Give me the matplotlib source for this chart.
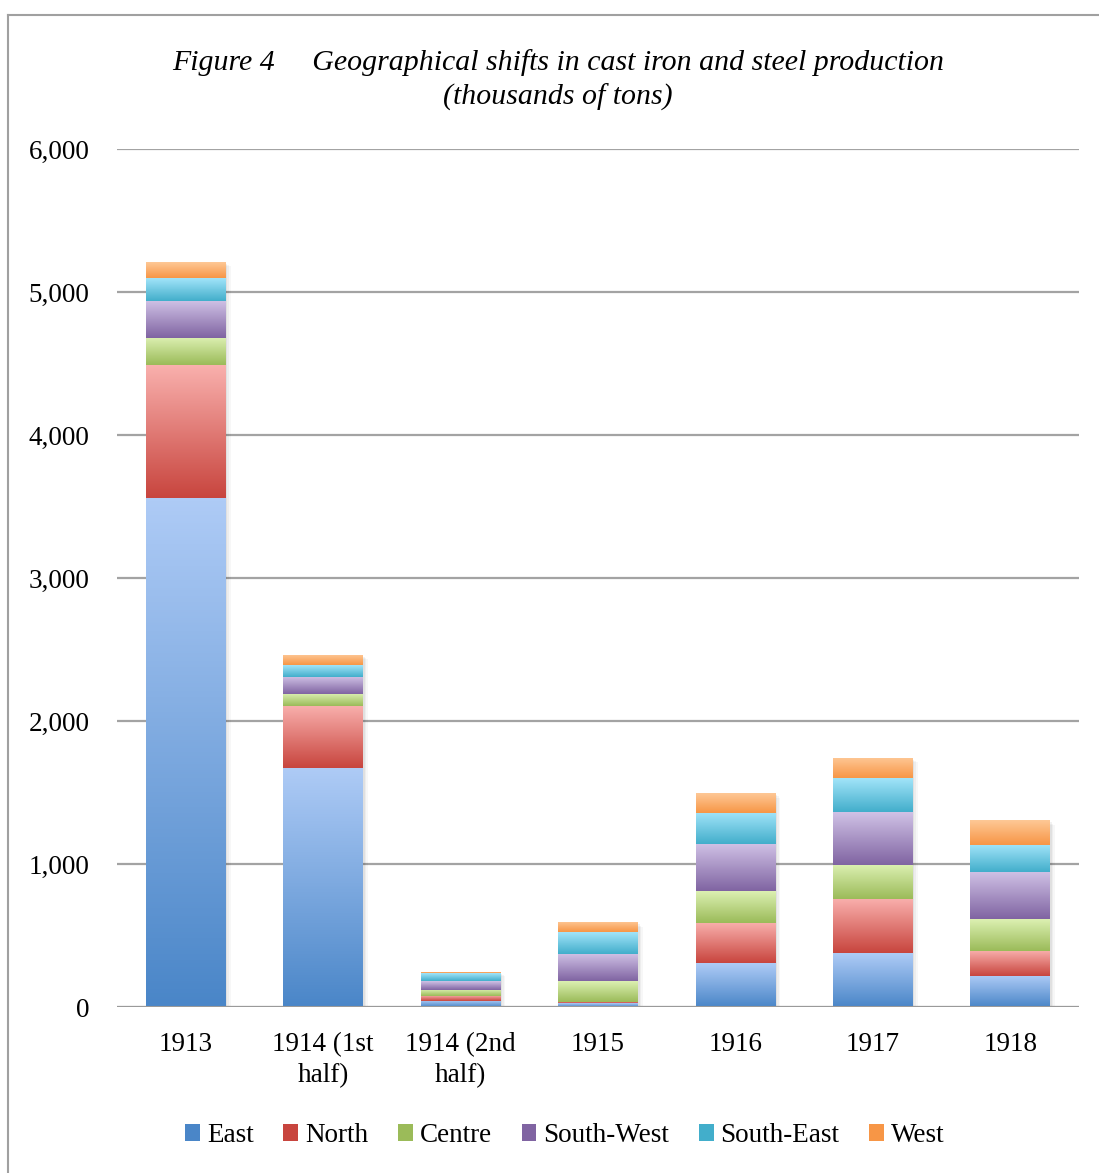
import numpy as np
import matplotlib
matplotlib.use("Agg")
import matplotlib.pyplot as plt
from matplotlib.colors import LinearSegmentedColormap
from matplotlib.lines import Line2D
from matplotlib.patches import Patch

plt.rcParams['font.family'] = ['Liberation Serif', 'DejaVu Serif']

# data (thousands of tons)
years = ['1913', '1914 (1st\nhalf)', '1914 (2nd\nhalf)', '1915', '1916', '1917', '1918']
regions = ['East', 'North', 'Centre', 'South-West', 'South-East', 'West']
east = [3560, 1670, 45, 25, 305, 375, 220]
north = [930, 435, 35, 12, 285, 380, 175]
centre = [190, 85, 42, 145, 220, 240, 220]
south_west = [260, 120, 60, 190, 330, 370, 330]
south_east = [160, 80, 55, 150, 220, 235, 190]
west = [110, 75, 10, 70, 135, 140, 170]
series = [east, north, centre, south_west, south_east, west]

# top (light) / bottom (dark) colour of each gradient
grads = [('#aecbf6', '#4a86c8'),
         ('#f9b0ad', '#c8453e'),
         ('#dcf0b2', '#9bbb59'),
         ('#d0c2e6', '#8064a2'),
         ('#a2e4f9', '#42aecb'),
         ('#fec896', '#f79646')]

fig = plt.figure(figsize=(10.99, 11.73), dpi=100)
ax = fig.add_axes([0.1065, 0.1415, 0.8753, 0.7315])

x = np.arange(len(years))
w = 0.58
grad = np.linspace(0, 1, 128).reshape(-1, 1)

bottom = np.zeros(len(years))
totals = np.sum(series, axis=0)
# soft shadow behind each bar
for i in range(len(years)):
    for k, a in enumerate([0.05, 0.04, 0.03]):
        off = 0.008 + k * 0.008
        ax.bar(x[i] + off, totals[i] + 6, w + off, bottom=-20 - k * 8,
               color='black', alpha=a, zorder=1, linewidth=0)

for vals, (c1, c2) in zip(series, grads):
    cmap = LinearSegmentedColormap.from_list('g', [c1, c2])
    bars = ax.bar(x, vals, w, bottom=bottom, color=c2, zorder=2, linewidth=0)
    for b in bars:
        im = ax.imshow(grad, cmap=cmap, aspect='auto', origin='upper',
                       extent=(b.get_x(), b.get_x() + b.get_width(),
                               b.get_y(), b.get_y() + b.get_height()),
                       zorder=3, interpolation='bilinear')
        im.set_clip_path(b)
    bottom = bottom + np.array(vals)

ax.set_xlim(-0.5, len(years) - 0.5)
ax.set_ylim(0, 6000)
ax.set_yticks(range(0, 6001, 1000))
ax.set_yticklabels([f'{v:,}' for v in range(0, 6001, 1000)])
ax.set_xticks(x)
ax.set_xticklabels(years, linespacing=1.3)
ax.grid(axis='y', color='#a3a3a3', linewidth=1.6, zorder=0)
ax.set_axisbelow(True)
for s in ax.spines.values():
    s.set_visible(False)
ax.axhline(0, color='#9a9a9a', linewidth=2.2, zorder=4)
ax.tick_params(axis='both', length=0, labelsize=19.5, colors='black')
ax.tick_params(axis='y', pad=20)
ax.tick_params(axis='x', pad=18)

fig.text(0.508, 0.947, 'Figure 4     Geographical shifts in cast iron and steel production',
         ha='center', va='center', fontsize=21.5, style='italic')
fig.text(0.508, 0.917, '(thousands of tons)', ha='center', va='center',
         fontsize=21.5, style='italic')

handles = []
for name, (c1, c2) in zip(regions, grads):
    handles.append(Patch(facecolor=c2, edgecolor='none', label=name))
fig.legend(handles=handles, loc='center', bbox_to_anchor=(0.514, 0.032), ncol=6,
           frameon=False, fontsize=19.5, handlelength=0.55, handleheight=0.55,
           handletextpad=0.25, columnspacing=1.1)

# chart frame
fig.add_artist(Line2D([8 / 1099, 8 / 1099], [0, 1 - 15 / 1173], color='#a0a0a0',
                      linewidth=1.5, transform=fig.transFigure))
fig.add_artist(Line2D([8 / 1099, 1], [1 - 15 / 1173, 1 - 15 / 1173], color='#a0a0a0',
                      linewidth=1.5, transform=fig.transFigure))

fig.savefig('out.png', dpi=100)
